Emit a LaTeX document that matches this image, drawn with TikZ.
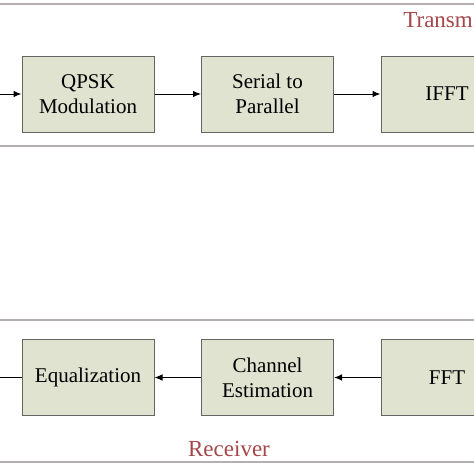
\documentclass[tikz,border=0pt]{standalone}
\usepackage{fontspec}
\setmainfont{Liberation Serif}
\usepackage{xcolor}
\definecolor{boxfill}{RGB}{223,227,208}
\definecolor{boxdraw}{RGB}{100,100,100}
\definecolor{rule}{RGB}{182,175,178}
\definecolor{label}{RGB}{165,70,72}
\usepackage{tikz}
\usetikzlibrary{positioning, arrows.meta}
\tikzstyle{block} = [
    rectangle, text centered,
    minimum width=132pt,
    minimum height=76pt,
    inner sep=0pt,
    align=center,
    fill=boxfill,
    draw=boxdraw,
    line width=1pt,
    font=\fontsize{21}{25}\selectfont,
]
\tikzstyle{divider} = [draw=rule, line width=1.8pt]
\tikzstyle{section} = [text=label, font=\fontsize{23}{27}\selectfont]
\tikzstyle{arrow} = [-{Latex[length=8pt,width=6.5pt]}, line width=1pt]

\begin{document}
\begin{tikzpicture}[x=1pt,y=-1pt]
    \useasboundingbox (0,0) rectangle (474,474);
    \clip (0,0) rectangle (474,474);

    % dividers
    \foreach \y in {4,146,320,462} {
        \draw [divider] (0,\y) -- (474,\y);
    }

    % boxes
    \foreach \name/\txt[count=\x] in {qpsk/{QPSK\\Modulation},s2p/{Serial to\\Parallel},ifft/IFFT} {
        \node (\name) at (88+179.5*\x-179.5, 94) [block] {\txt};
    }
    \foreach \name/\txt[count=\x] in {eq/Equalization,chest/{Channel\\Estimation},fft/FFT} {
        \node (\name) at (88+179.5*\x-179.5, 377.5) [block] {\txt};
    }
    \node (tx) at (473, 27) [section, anchor=base east, inner sep=0pt] {Transm};
    \node (rx) at (229, 456) [section, anchor=base] {Receiver};
    \coordinate (txin) at (-10, 94);
    \coordinate (rxout) at (-10, 377.5);

    % arrows
    \draw [arrow] (txin) to (qpsk.west);
    \draw [arrow] (qpsk.east) to (s2p.west);
    \draw [arrow] (s2p.east) to (ifft.west);
    \draw [arrow] (fft.west) to (chest.east);
    \draw [arrow] (chest.west) to (eq.east);
    \draw [arrow] (eq.west) to (rxout);

\end{tikzpicture}
\end{document}
